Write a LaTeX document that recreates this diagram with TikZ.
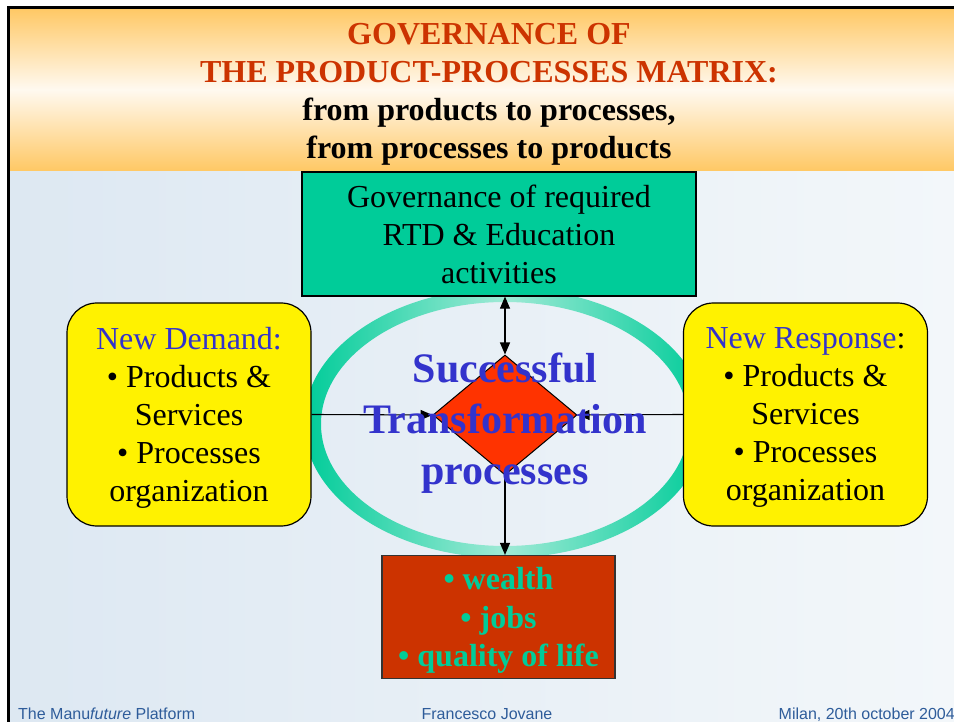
\documentclass[tikz,border=0pt]{standalone}
\usepackage{fontspec}
\setmainfont{Liberation Serif}
\newfontfamily\footfont{Liberation Sans}
\usetikzlibrary{shapes.geometric,arrows.meta}
\definecolor{hdrorange}{HTML}{FFC864}
\definecolor{hdrlight}{HTML}{FFF9F0}
\definecolor{bgleft}{HTML}{DDE8F2}
\definecolor{bgright}{HTML}{F3F7FA}
\definecolor{ringdark}{HTML}{00CC99}
\definecolor{ringlight}{HTML}{A0EAD6}
\definecolor{greenbox}{HTML}{00CC99}
\definecolor{redbox}{HTML}{CC3300}
\definecolor{diamondred}{HTML}{FF3300}
\definecolor{titlered}{HTML}{CC3300}
\definecolor{textblue}{HTML}{3333CC}
\definecolor{footblue}{HTML}{2E5C9A}
\definecolor{goodgreen}{HTML}{00CC99}
\begin{document}
\begin{tikzpicture}[x=1pt,y=-1pt,
  box/.style={draw=black, line width=1.2pt, inner sep=0pt, align=center, text depth=-3pt,
    font=\fontsize{32}{38}\selectfont},
  yellowbox/.style={box, fill=yellow, rounded corners=30pt, minimum width=244pt, minimum height=223pt},
  tip/.style={Triangle[length=12pt,width=10pt]},
  conn/.style={line width=1.1pt, -{Triangle[length=12pt,width=10pt]}},
  foot/.style={font=\footfont\fontsize{16}{18}\selectfont, text=footblue, inner sep=0pt, anchor=base west}
]
\useasboundingbox (0,0) rectangle (954,722);
% page
\fill[white] (0,0) rectangle (954,722);
% body background
\shade[left color=bgleft, right color=bgright] (8,171) rectangle (954,722);
% header band
\shade[top color=hdrorange, bottom color=hdrorange, middle color=hdrlight] (8,8) rectangle (954,171);
% frame
\draw[black, line width=3pt] (8,722) -- (8,8) -- (954,8);
% ring
\shade[even odd rule, left color=ringdark, right color=ringdark, middle color=ringlight]
  (505,423) ellipse [x radius=201pt, y radius=135pt]
  (505,424) ellipse [x radius=184pt, y radius=122pt];
% title
\node[anchor=south, inner sep=0pt, align=center, text depth=0pt,
      font=\bfseries\fontsize{32}{38}\selectfont] (title) at (489,159)
  {\textcolor{titlered}{GOVERNANCE OF}\\
   \textcolor{titlered}{THE PRODUCT-PROCESSES MATRIX:}\\
   from products to processes,\\
   from processes to products};
% boxes
\node[box, fill=greenbox, minimum width=394pt, minimum height=124pt] (gov) at (499,234)
  {Governance of required\\RTD \& Education\\activities};
\node[yellowbox] (demand) at (189,414.5)
  {\textcolor{textblue}{New Demand:}\\\textbullet{} Products \&\\Services\\\textbullet{} Processes\\organization};
\node[yellowbox] (response) at (805.5,414.5)
  {\textcolor{textblue}{New Response}:\\\textbullet{} Products \&\\Services\\\textbullet{} Processes\\organization};
\node[box, fill=redbox, draw=black!80, minimum width=233pt, minimum height=123pt,
      font=\bfseries\fontsize{32}{38.5}\selectfont, text=goodgreen] (out) at (498.5,617)
  {\textbullet{} wealth\\\textbullet{} jobs\\\textbullet{} quality of life};
% diamond
\node[diamond, draw=black, line width=1pt, fill=diamondred, inner sep=0pt,
      minimum width=144pt, minimum height=120pt] (dia) at (505,415) {};
% connectors
\draw[conn] (demand.east) -- (dia.west);
\draw[conn] (response.west) -- (dia.east);
\draw[conn, {Triangle[length=12pt,width=10pt]}-{Triangle[length=12pt,width=10pt]}] (dia.north |- gov.south) -- (dia.north);
\draw[conn] (dia.south) -- (dia.south |- out.north);
% centre text
\node[inner sep=0pt, align=center, text depth=0pt, text=textblue,
      font=\bfseries\fontsize{42}{51}\selectfont, anchor=south] (core) at (505,485)
  {Successful\\Transformation\\processes};
% footer
\node[foot] (f1) at (18,719) {The Manu\textit{future} Platform};
\node[foot, anchor=base] (f2) at (487,719) {Francesco Jovane};
\node[foot, anchor=base east] (f3) at (955,719) {Milan, 20th october 2004};
\end{tikzpicture}
\end{document}
